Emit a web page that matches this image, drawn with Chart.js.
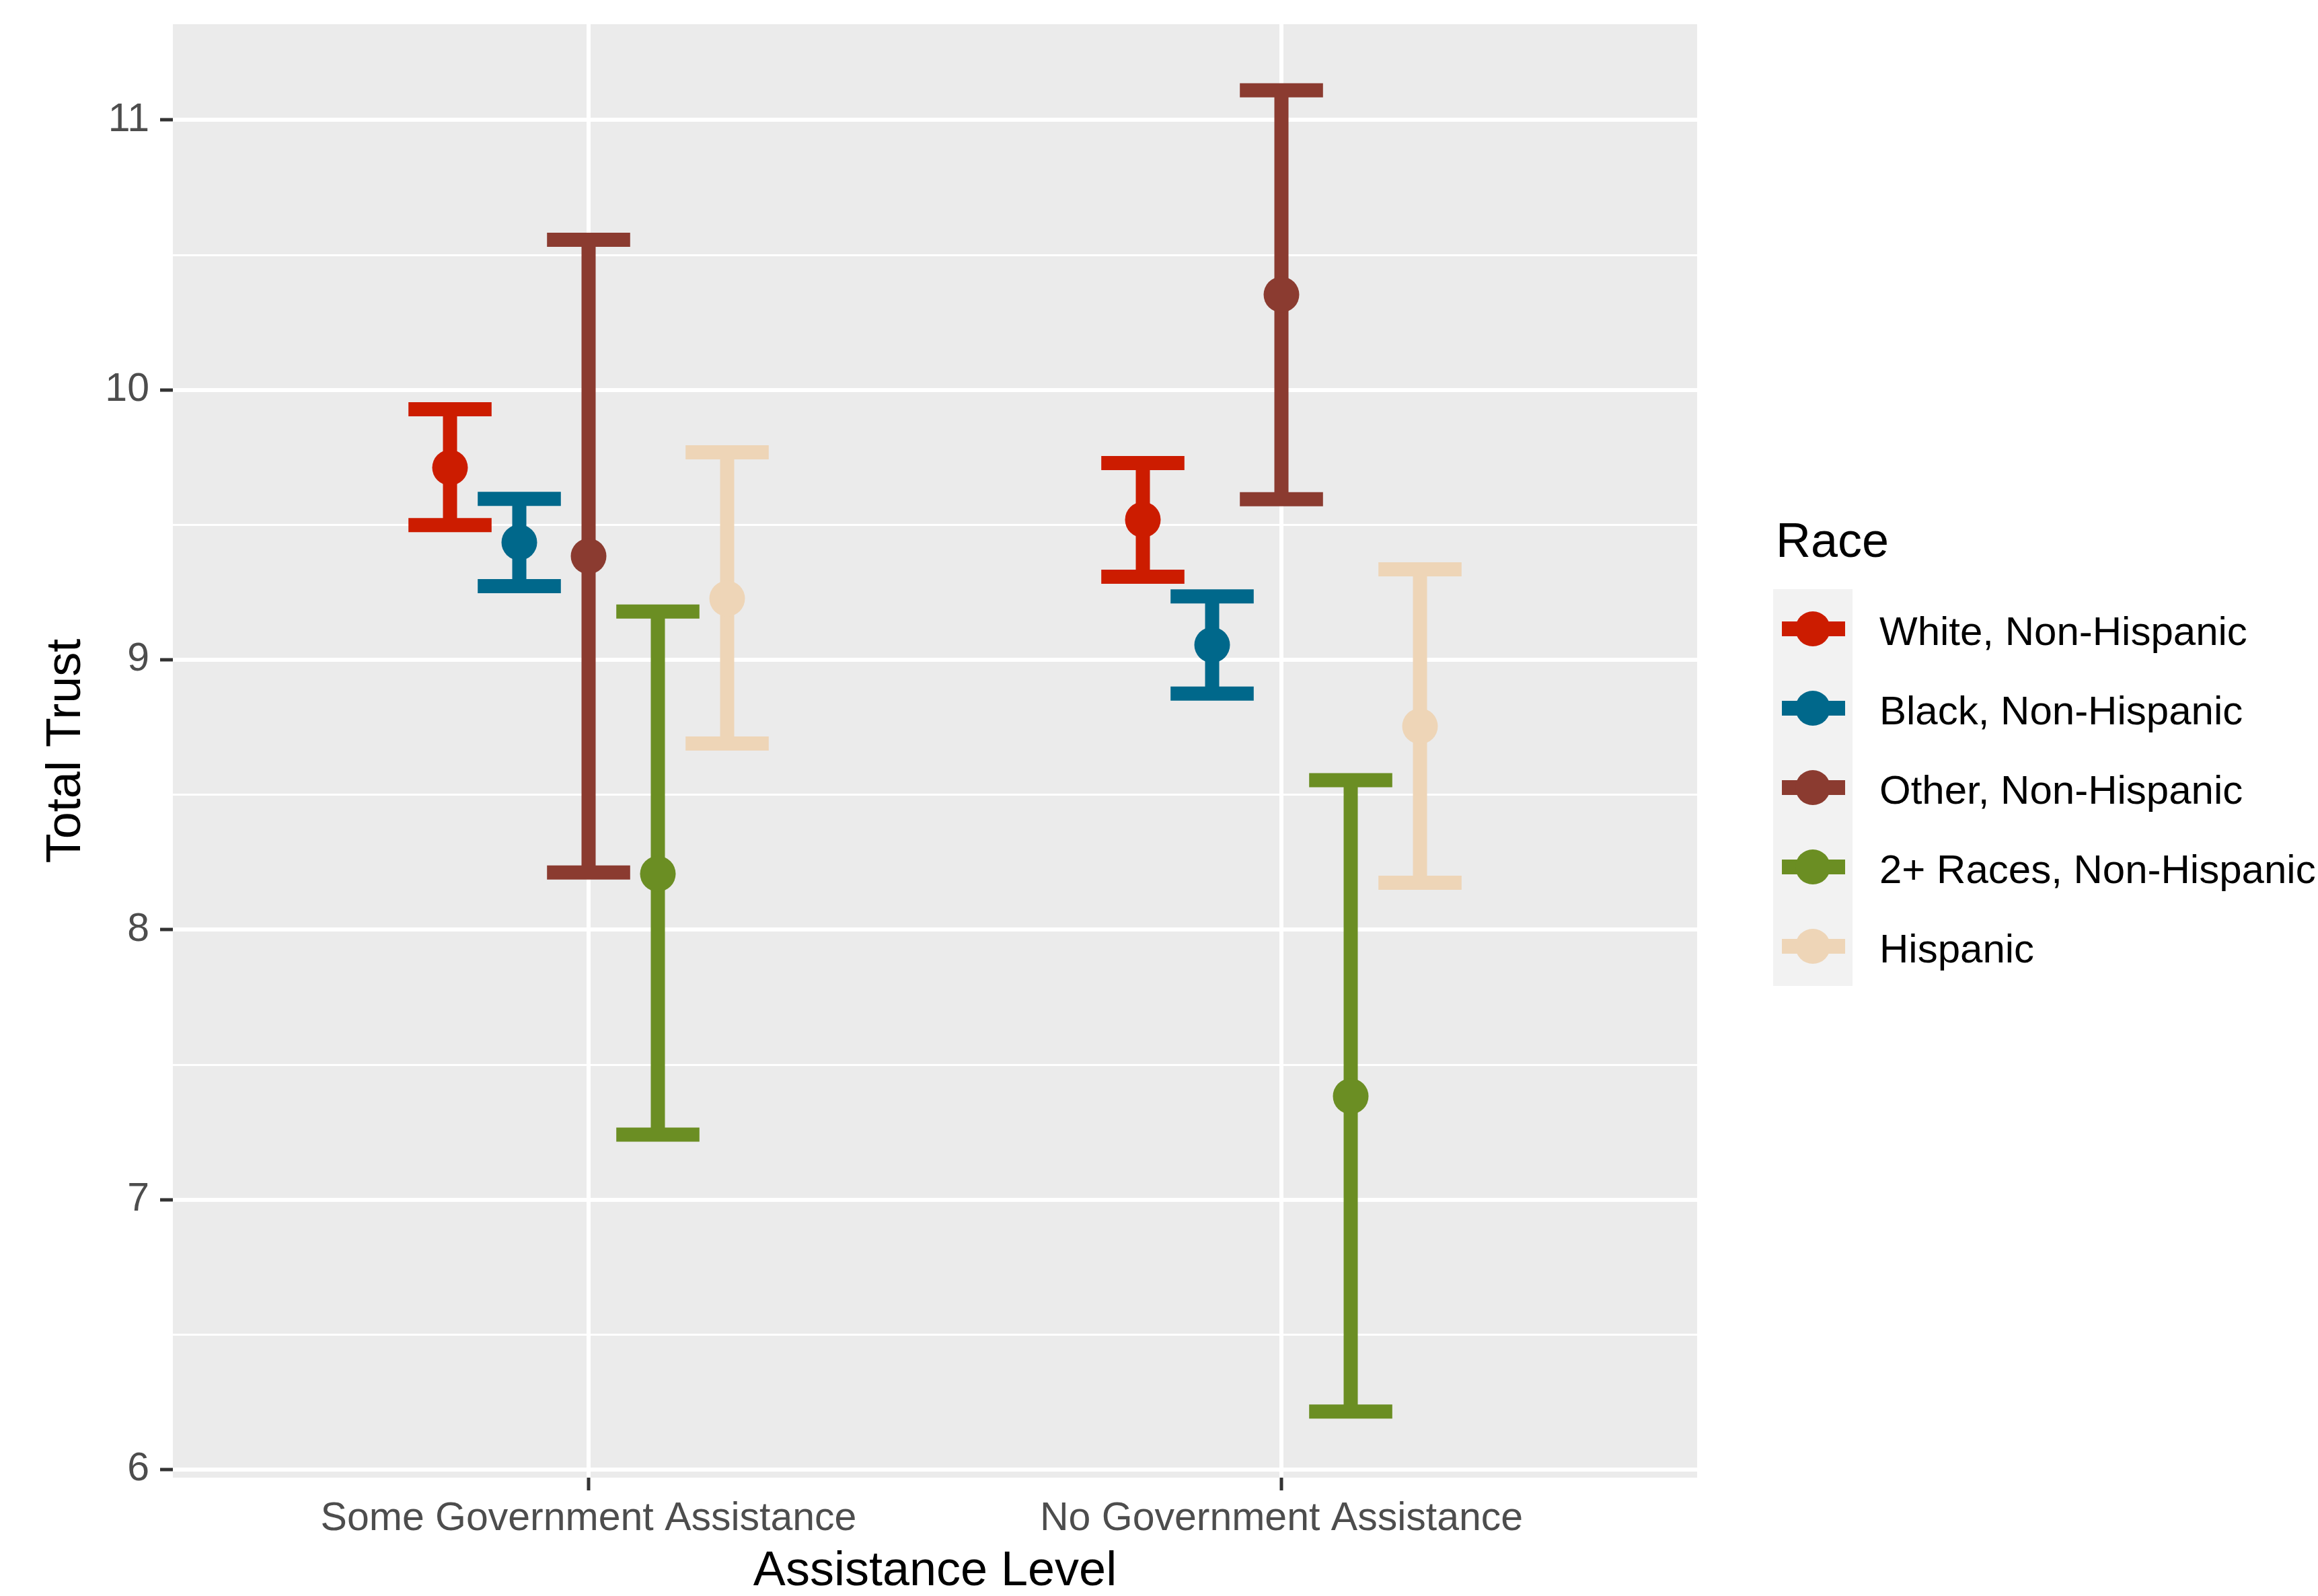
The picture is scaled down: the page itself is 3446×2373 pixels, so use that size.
<!DOCTYPE html>
<html>
<head>
<meta charset="utf-8">
<title>Total Trust by Assistance Level and Race</title>
<script src="https://cdn.jsdelivr.net/npm/chart.js@4.4.1/dist/chart.umd.min.js"></script>
<style>
  html, body { margin: 0; padding: 0; background: #ffffff; }
  canvas { display: block; }
</style>
</head>
<body>
<canvas id="graficoTrust" width="3446" height="2373"></canvas>
<script>
const categories = ["Some Government Assistance", "No Government Assistance"];
const races = ["White, Non-Hispanic", "Black, Non-Hispanic", "Other, Non-Hispanic", "2+ Races, Non-Hispanic", "Hispanic"];
const raceColors = ["#CC1C00", "#00688B", "#8B3B30", "#6B8E23", "#EED5B7"];

// mean and 95% interval, one value per race
const meanSome = [9.712, 9.435, 9.384, 8.207, 9.227];
const lowSome  = [9.499, 9.273, 8.212, 7.241, 8.690];
const highSome = [9.928, 9.596, 10.556, 9.179, 9.769];

const meanNo = [9.519, 9.055, 10.353, 7.383, 8.754];
const lowNo  = [9.308, 8.875, 9.595, 6.215, 8.174];
const highNo = [9.729, 9.235, 11.110, 8.554, 9.335];

const yTicks = [6, 6.5, 7, 7.5, 8, 8.5, 9, 9.5, 10, 10.5, 11];

const dodgeStep = 0.1;
const capHalf = 0.06;

// y range from data with 5% expansion (ggplot style)
const allValues = lowSome.concat(highSome, lowNo, highNo);
const dataMin = Math.min(...allValues);
const dataMax = Math.max(...allValues);
const pad = (dataMax - dataMin) * 0.05;

const datasets = races.map((race, i) => {
    const off = (i - 2) * dodgeStep;
    return {
        label: race,
        data: [
            { x: 1 + off, y: meanSome[i], lo: lowSome[i], hi: highSome[i] },
            { x: 2 + off, y: meanNo[i], lo: lowNo[i], hi: highNo[i] }
        ],
        backgroundColor: raceColors[i],
        borderColor: raceColors[i],
        pointRadius: 26.5,
        pointBorderWidth: 0
    };
});

const fontFamily = '"Liberation Sans", Arial, Helvetica, sans-serif';

const panelBackground = {
    id: 'panelBackground',
    beforeDraw(chart) {
        const { ctx, chartArea } = chart;
        ctx.save();
        ctx.fillStyle = '#ffffff';
        ctx.fillRect(0, 0, chart.width, chart.height);
        ctx.fillStyle = '#EBEBEB';
        ctx.fillRect(chartArea.left, chartArea.top, chartArea.right - chartArea.left, chartArea.bottom - chartArea.top);
        ctx.restore();
    }
};

const errorBars = {
    id: 'errorBars',
    beforeDatasetsDraw(chart) {
        const { ctx, chartArea } = chart;
        const xs = chart.scales.x, ys = chart.scales.y;
        ctx.save();
        ctx.beginPath();
        ctx.rect(chartArea.left, chartArea.top, chartArea.right - chartArea.left, chartArea.bottom - chartArea.top);
        ctx.clip();
        ctx.lineCap = 'butt';
        ctx.lineWidth = 21;
        chart.data.datasets.forEach(ds => {
            ctx.strokeStyle = ds.borderColor;
            ds.data.forEach(p => {
                const px = xs.getPixelForValue(p.x);
                const top = ys.getPixelForValue(p.hi);
                const bot = ys.getPixelForValue(p.lo);
                const l = xs.getPixelForValue(p.x - capHalf);
                const r = xs.getPixelForValue(p.x + capHalf);
                ctx.beginPath();
                ctx.moveTo(px, top); ctx.lineTo(px, bot);
                ctx.moveTo(l, top); ctx.lineTo(r, top);
                ctx.moveTo(l, bot); ctx.lineTo(r, bot);
                ctx.stroke();
            });
        });
        ctx.restore();
    }
};

const raceLegend = {
    id: 'raceLegend',
    afterDraw(chart) {
        const ctx = chart.ctx;
        const keyLeft = 2636, keyTop = 876, keySize = 118;
        ctx.save();
        ctx.fillStyle = '#000000';
        ctx.font = '72px ' + fontFamily;
        ctx.textAlign = 'left';
        ctx.textBaseline = 'middle';
        ctx.fillText('Race', 2640, 808);

        ctx.fillStyle = '#F2F2F2';
        ctx.fillRect(keyLeft, keyTop, keySize, keySize * races.length);

        races.forEach((race, i) => {
            const cy = keyTop + keySize / 2 + i * keySize;
            const cx = keyLeft + keySize / 2;
            ctx.strokeStyle = raceColors[i];
            ctx.lineWidth = 22;
            ctx.lineCap = 'butt';
            ctx.beginPath();
            ctx.moveTo(keyLeft + 13, cy);
            ctx.lineTo(keyLeft + keySize - 11, cy);
            ctx.stroke();
            ctx.fillStyle = raceColors[i];
            ctx.beginPath();
            ctx.arc(cx, cy, 26, 0, Math.PI * 2);
            ctx.fill();

            ctx.fillStyle = '#000000';
            ctx.font = '60px ' + fontFamily;
            ctx.textBaseline = 'alphabetic';
            ctx.fillText(race, 2794, cy + 24);
        });
        ctx.restore();
    }
};

new Chart(document.getElementById('graficoTrust'), {
    type: 'scatter',
    data: { datasets: datasets },
    plugins: [panelBackground, errorBars, raceLegend],
    options: {
        responsive: false,
        animation: false,
        events: [],
        layout: { padding: { left: 0, right: 923, top: 36, bottom: 0 } },
        plugins: {
            legend: { display: false },
            tooltip: { enabled: false }
        },
        scales: {
            x: {
                type: 'linear',
                min: 0.4,
                max: 2.6,
                afterBuildTicks: scale => { scale.ticks = categories.map((c, i) => ({ value: i + 1 })); },
                afterFit: scale => {
                    scale.height = 176;
                    scale.paddingLeft = 0;
                    scale.paddingRight = 0;
                },
                border: { display: false },
                grid: {
                    color: '#ffffff',
                    lineWidth: 6,
                    tickColor: '#333333',
                    tickWidth: 5,
                    tickLength: 19
                },
                ticks: {
                    autoSkip: false,
                    maxRotation: 0,
                    padding: 7,
                    color: '#4D4D4D',
                    font: { family: fontFamily, size: 59 },
                    callback: value => categories[Math.round(value) - 1]
                },
                title: {
                    display: true,
                    text: 'Assistance Level',
                    color: '#000000',
                    font: { family: fontFamily, size: 72 },
                    padding: { top: 0, bottom: -7 }
                }
            },
            y: {
                min: dataMin - pad,
                max: dataMax + pad,
                afterBuildTicks: scale => { scale.ticks = yTicks.map(v => ({ value: v })); },
                afterFit: scale => {
                    scale.width = 257;
                    scale.paddingTop = 0;
                    scale.paddingBottom = 0;
                },
                border: { display: false },
                grid: {
                    color: '#ffffff',
                    lineWidth: c => Number.isInteger(c.tick.value) ? 6 : 3,
                    tickColor: c => Number.isInteger(c.tick.value) ? '#333333' : 'rgba(0,0,0,0)',
                    tickWidth: 5,
                    tickLength: 19
                },
                ticks: {
                    autoSkip: false,
                    padding: 16,
                    color: '#4D4D4D',
                    font: { family: fontFamily, size: 59 },
                    callback: value => Number.isInteger(value) ? String(value) : ''
                },
                title: {
                    display: true,
                    text: 'Total Trust',
                    color: '#000000',
                    font: { family: fontFamily, size: 72 },
                    padding: { top: 56, bottom: 0 }
                }
            }
        }
    }
});
</script>
</body>
</html>
